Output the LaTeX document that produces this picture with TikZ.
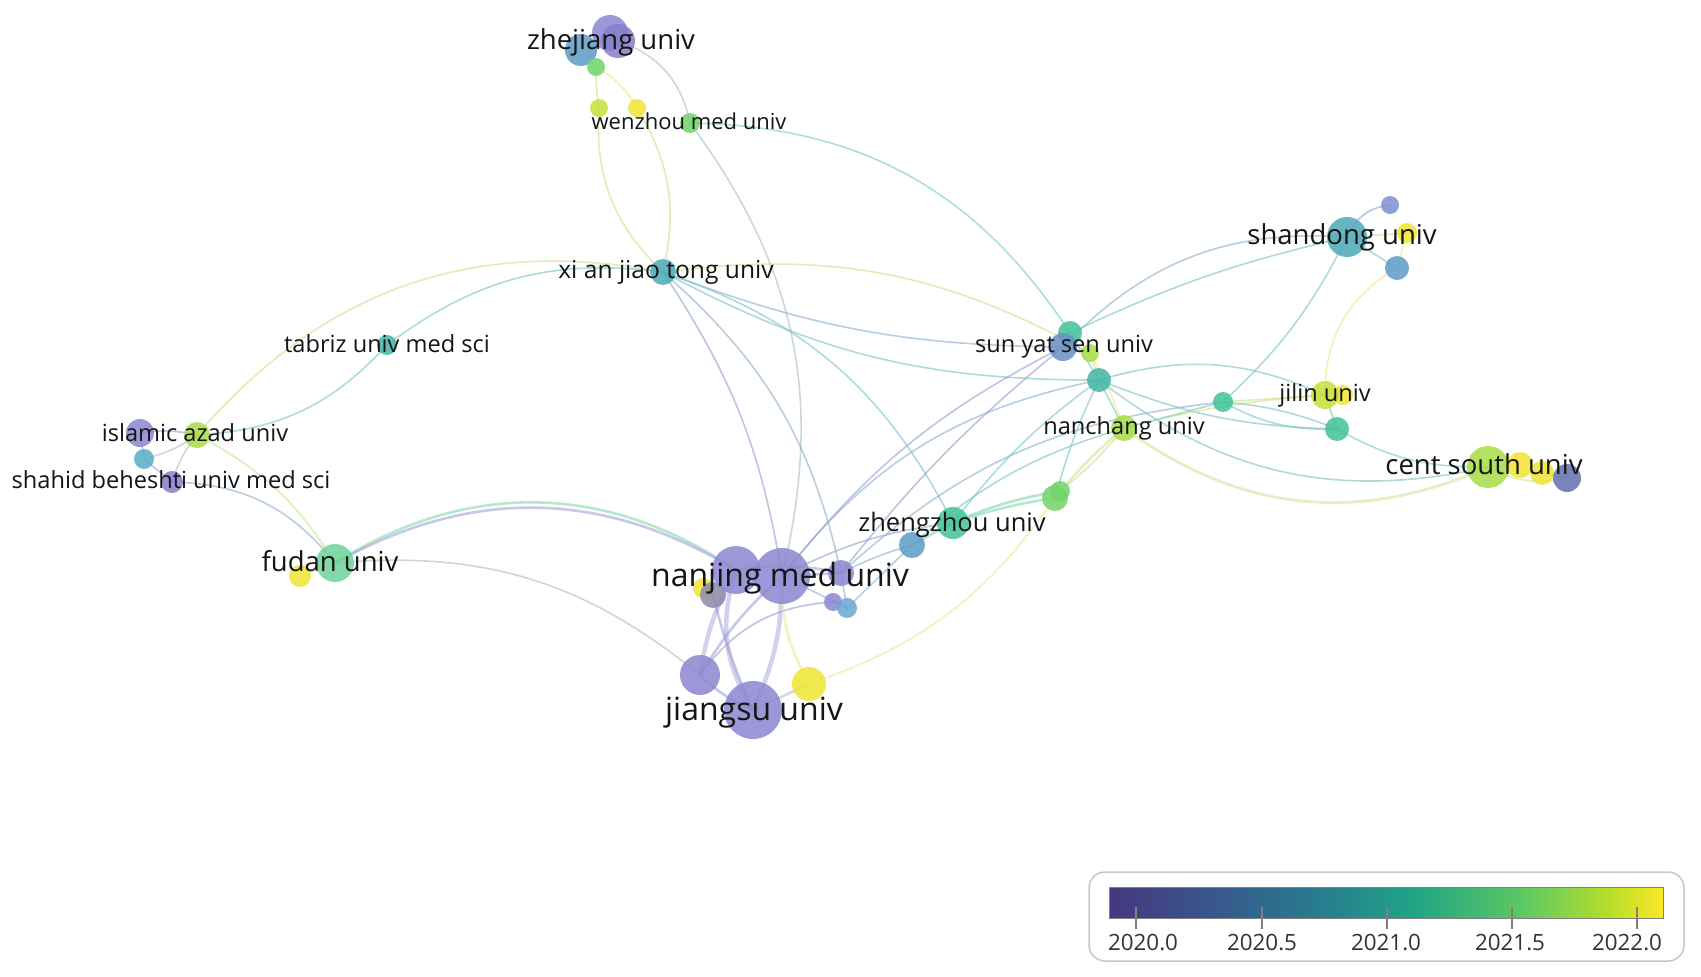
\documentclass[tikz,border=0pt]{standalone}
\usepackage{fontspec}
\setmainfont{Open Sans}
\pgfdeclarelayer{back}
\pgfdeclarelayer{edges}
\pgfsetlayers{back,edges,main}
% node colours
\definecolor{cPurple}{HTML}{8C88D2}
\definecolor{cPurpleD}{HTML}{8780CC}
\definecolor{cBlue}{HTML}{5E9DC6}
\definecolor{cTeal}{HTML}{4EAAB8}
\definecolor{cTeal2}{HTML}{45B5A8}
\definecolor{cTG}{HTML}{43C29A}
\definecolor{cGreen}{HTML}{6FD49A}
\definecolor{cGreen2}{HTML}{72D56B}
\definecolor{cLime}{HTML}{A8DD48}
\definecolor{cYLime}{HTML}{C8E03A}
\definecolor{cYellow}{HTML}{F0E535}
\definecolor{cBlue2}{HTML}{6A8FC8}
\definecolor{cGray}{HTML}{8E8BA6}
\definecolor{cSBlue}{HTML}{7E90CF}
\definecolor{cDBlue}{HTML}{6172AE}
\definecolor{cLBlue}{HTML}{6AA8D2}
\definecolor{cIBlue}{HTML}{5AAEC8}
% edge colours
\definecolor{ePurple}{HTML}{9C9AD8}
\definecolor{eBluePur}{HTML}{94A4D0}
\definecolor{eBlue}{HTML}{8DB0CF}
\definecolor{eTeal}{HTML}{7CC6C4}
\definecolor{eTG}{HTML}{78D0B0}
\definecolor{eGreen}{HTML}{7CD6A0}
\definecolor{eLime}{HTML}{C9E48A}
\definecolor{eYellow}{HTML}{E4EC8C}
\definecolor{eGrayT}{HTML}{A8C4BC}
\definecolor{eGray}{HTML}{B8B8C8}
\definecolor{labc}{HTML}{151515}
\definecolor{tickc}{HTML}{333333}
% viridis
\definecolor{v0}{HTML}{453781}
\definecolor{v2}{HTML}{37598C}
\definecolor{v4}{HTML}{26818E}
\definecolor{v55}{HTML}{20A486}
\definecolor{v75}{HTML}{5EC962}
\definecolor{v9}{HTML}{B5DE2B}
\definecolor{v10}{HTML}{FDE725}
\pgfdeclarehorizontalshading{viridis}{100bp}{color(0bp)=(v0); color(25bp)=(v0); color(35bp)=(v2); color(45bp)=(v4); color(52.5bp)=(v55); color(62.5bp)=(v75); color(70bp)=(v9); color(75bp)=(v10); color(100bp)=(v10)}
\tikzset{
  dot/.style={circle, inner sep=0pt, draw=none, fill opacity=0.86},
  lab/.style={anchor=base, inner sep=0pt, text=labc},
  edge/.style={line width=1.6pt, draw opacity=0.62},
  thick edge/.style={line width=4.5pt, draw opacity=0.45},
  mid edge/.style={line width=2.6pt, draw opacity=0.55},
  ticklab/.style={anchor=base, inner sep=0pt, text=tickc, font=\fontsize{22.4}{22.4}\selectfont}
}
\newcommand\nd[5]{\node[dot, fill=#5, minimum size={2*#4}] (#1) at (#2,#3) {};}
\newcommand\lbl[5]{\node[lab, font=\fontsize{#4}{#4}\selectfont, yshift={-0.3*#4pt}] (#1) at (#2,#3) {#5};}
\begin{document}
\begin{tikzpicture}[x=1pt,y=-1pt]
\begin{pgfonlayer}{back}
\fill[white] (0,0) rectangle (1701,977);
\end{pgfonlayer}
\useasboundingbox (0,0) rectangle (1701,977);

% ---------- nodes ----------
\nd{zj1}{610}{33}{18}{cPurple}
\nd{zj2}{618}{41}{17}{cPurpleD}
\nd{zj3}{581}{50}{16}{cBlue}
\nd{zj4}{596}{67}{9}{cGreen2}
\nd{wz1}{599}{108}{9}{cYLime}
\nd{wz2}{637}{108}{9}{cYellow}
\nd{wz3}{690}{123}{10}{cGreen2}
\nd{xa}{663}{272}{13}{cTeal}
\nd{tb}{387}{345}{10}{cTeal2}
\nd{ia1}{140}{433}{14}{cPurple}
\nd{ia2}{197}{435}{13}{cLime}
\nd{ia3}{144}{459}{10}{cIBlue}
\nd{sb}{172}{482}{11}{cPurpleD}
\nd{fd2}{300}{576}{11}{cYellow}
\nd{fd1}{335}{563}{19}{cGreen}
\nd{nj5}{703}{588}{10}{cYellow}
\nd{nj4}{713}{595}{13}{cGray}
\nd{nj2}{736}{570}{24}{cPurple}
\nd{nj1}{782}{576}{28}{cPurple}
\nd{nj3}{841}{573}{13}{cPurple}
\nd{nj6}{833}{602}{9}{cPurple}
\nd{nj7}{847}{608}{10}{cLBlue}
\nd{js1}{700}{675}{20}{cPurple}
\nd{js2}{753}{710}{29}{cPurple}
\nd{js3}{809}{684}{17}{cYellow}
\nd{zz1}{912}{545}{13}{cBlue}
\nd{zz2}{953}{523}{16}{cTG}
\nd{gp1}{1055}{498}{13}{cGreen2}
\nd{gp2}{1060}{491}{10}{cGreen2}
\nd{nc}{1124}{428}{13}{cLime}
\nd{t2}{1099}{380}{12}{cTeal2}
\nd{sy2}{1070}{333}{12}{cTG}
\nd{sy1}{1063}{347}{14}{cBlue2}
\nd{sy3}{1090}{353}{9}{cLime}
\nd{g1}{1223}{402}{10}{cTG}
\nd{jl2}{1343}{395}{10}{cYellow}
\nd{jl1}{1325}{395}{14}{cYLime}
\nd{jt}{1337}{429}{12}{cTG}
\nd{cs1}{1488}{467}{21}{cLime}
\nd{cs2}{1520}{465}{13}{cYellow}
\nd{cs3}{1542}{473}{12}{cYellow}
\nd{cs4}{1567}{478}{14}{cDBlue}
\nd{sd1}{1347}{237}{20}{cTeal}
\nd{sd2}{1390}{205}{9}{cSBlue}
\nd{sd3}{1407}{233}{10}{cYellow}
\nd{sd4}{1397}{268}{12}{cBlue}

% ---------- edges ----------
\begin{pgfonlayer}{edges}
% zhejiang / wenzhou
\draw[edge, eLime] (zj4.center) to[bend right=5] (wz1.center);
\draw[edge, eYellow] (zj4.center) to[bend left=15] (wz2.center);
\draw[edge, eGrayT] (zj2.center) to[bend left=30] (wz3.center);
\draw[edge, eLime] (wz1.center) to[bend right=25] (xa.center);
\draw[edge, eLime] (wz2.center) to[bend left=22] (xa.center);
\draw[edge, eGrayT] (wz3.center) to[bend left=25] (nj1.center);
\draw[edge, eTG] (wz3.center) to[bend left=28] (sy2.center);
% xi an jiao tong
\draw[edge, eLime] (ia2.center) to[bend left=30] (xa.center);
\draw[edge, eTeal] (tb.center) to[bend left=22] (xa.center);
\draw[edge, eTeal] (tb.center) to[bend left=22] (ia2.center);
\draw[edge, eLime] (xa.center) to[bend left=18] (sy3.center);
\draw[edge, eBlue] (xa.center) to[bend right=10] (sy1.center);
\draw[edge, eTeal] (xa.center) to[bend right=14] (t2.center);
\draw[edge, eTeal] (xa.center) to[bend left=22] (zz2.center);
\draw[edge, eBluePur] (xa.center) to[bend left=12] (nj1.center);
\draw[edge, eBlue] (xa.center) to[bend left=18] (nj3.center);
% fudan / iran
\draw[mid edge, eGreen] (fd1.center) to[bend left=33] (nj2.center);
\draw[mid edge, ePurple] (fd1.center) to[bend left=30] (nj2.center);
\draw[edge, eGray] (fd1.center) to[bend left=22] (js1.center);
\draw[edge, eLime] (ia2.center) to[bend left=15] (fd1.center);
\draw[edge, eBlue] (sb.center) to[bend left=25] (fd1.center);
\draw[edge, ePurple] (ia1.center) to[bend left=10] (ia2.center);
\draw[edge, eGrayT] (ia3.center) to[bend right=10] (ia2.center);
\draw[edge, eBlue] (ia1.center) to (ia3.center);
\draw[edge, eGray] (sb.center) to[bend left=10] (ia2.center);
\draw[edge, eBluePur] (ia3.center) to (sb.center);
\draw[edge, eYellow] (fd2.center) to (fd1.center);
% nanjing / jiangsu
\draw[thick edge, ePurple] (nj1.center) to[bend left=12] (js2.center);
\draw[thick edge, ePurple] (nj2.center) to[bend right=25] (js2.center);
\draw[thick edge, ePurple] (nj2.center) to[bend right=10] (js1.center);
\draw[mid edge, ePurple] (nj1.center) to[bend right=8] (js1.center);
\draw[mid edge, ePurple] (js1.center) to[bend right=10] (js2.center);
\draw[edge, ePurple] (js1.center) to[bend left=25] (nj6.center);
\draw[mid edge, ePurple] (nj4.center) to[bend right=5] (js2.center);
\draw[mid edge, eGray] (js2.center) to (js3.center);
\draw[mid edge, eYellow] (js3.center) to[bend left=15] (nj1.center);
\draw[mid edge, ePurple] (nj1.center) to (nj3.center);
\draw[mid edge, ePurple] (nj2.center) to[bend left=10] (nj3.center);
\draw[edge, eBlue] (nj3.center) to (nj7.center);
\draw[edge, eBlue] (nj1.center) to (nj7.center);
\draw[edge, ePurple] (nj6.center) to (nj7.center);
\draw[edge, eYellow] (js3.center) to[bend right=18] (gp1.center);
% zhengzhou / nanchang
\draw[mid edge, eGreen] (zz2.center) to[bend left=5] (gp1.center);
\draw[mid edge, eTG] (zz1.center) to[bend left=10] (gp2.center);
\draw[edge, eBlue] (zz1.center) to[bend right=5] (nj3.center);
\draw[edge, eBluePur] (zz2.center) to[bend right=10] (nj1.center);
\draw[edge, eBlue] (zz1.center) to (nj7.center);
\draw[mid edge, eLime] (nc.center) to[bend right=5] (gp1.center);
\draw[edge, eLime] (nc.center) to[bend left=6] (gp2.center);
\draw[edge, eTeal] (nc.center) to[bend right=12] (zz1.center);
\draw[edge, eBlue] (g1.center) to[bend right=18] (nj3.center);
\draw[edge, eTeal] (t2.center) to[bend right=5] (gp1.center);
\draw[edge, eTeal] (t2.center) to[bend right=8] (zz2.center);
\draw[edge, eBlue] (t2.center) to[bend right=20] (nj1.center);
\draw[edge, eBluePur] (sy1.center) to[bend right=12] (nj1.center);
\draw[edge, eBluePur] (sy1.center) to[bend right=6] (nj3.center);
% sun yat sen / shandong
\draw[edge, eBlue] (sd1.center) to[bend right=25] (sy1.center);
\draw[edge, eTeal] (sd1.center) to[bend right=6] (sy2.center);
\draw[edge, eTeal] (sd1.center) to[bend left=10] (g1.center);
\draw[edge, eBluePur] (sd1.center) to[bend left=30] (sd2.center);
\draw[edge, eTeal] (sd1.center) to (sd4.center);
\draw[edge, eYellow] (sd3.center) to (sd4.center);
\draw[edge, eLime] (sd1.center) to (sd3.center);
\draw[edge, eYellow] (sd4.center) to[bend right=30] (jl1.center);
\draw[edge, eBlue] (sy1.center) to (sy3.center);
\draw[edge, eTeal] (sy2.center) to (t2.center);
\draw[edge, eLime] (sy3.center) to (t2.center);
\draw[edge, eYellow] (sy3.center) to[bend left=5] (nc.center);
\draw[edge, eTG] (t2.center) to (nc.center);
\draw[edge, eTeal] (t2.center) to[bend left=20] (jl1.center);
\draw[edge, eTeal] (t2.center) to[bend right=10] (jt.center);
\draw[edge, eTeal] (t2.center) to[bend right=25] (cs1.center);
\draw[mid edge, eLime] (nc.center) to[bend right=30] (cs1.center);
\draw[edge, eLime] (nc.center) to[bend left=5] (jl1.center);
\draw[edge, eTG] (nc.center) to (g1.center);
\draw[edge, eTeal] (g1.center) to[bend right=15] (jt.center);
\draw[edge, eTeal] (g1.center) to[bend left=8] (jt.center);
\draw[edge, eLime] (g1.center) to (jl1.center);
\draw[edge, eTG] (jl1.center) to (jt.center);
\draw[edge, eTG] (jt.center) to[bend right=15] (cs1.center);
\draw[mid edge, eYellow] (cs1.center) to (cs2.center);
\draw[mid edge, eYellow] (cs2.center) to (cs3.center);
\draw[edge, eGray] (cs3.center) to (cs4.center);
\draw[edge, eLime] (cs1.center) to[bend right=20] (cs4.center);
\end{pgfonlayer}

% ---------- labels ----------
\lbl{Lzj}{611}{41}{27.5}{zhejiang univ}
\lbl{Lwz}{689}{123}{22}{wenzhou med univ}
\lbl{Lxa}{666}{271}{24.6}{xi an jiao tong univ}
\lbl{Ltb}{387}{345}{23.6}{tabriz univ med sci}
\lbl{Lia}{195}{434}{23.6}{islamic azad univ}
\lbl{Lsb}{171}{481}{23.6}{shahid beheshti univ med sci}
\lbl{Lfd}{330}{563}{27.5}{fudan univ}
\lbl{Lnj}{780}{577}{32}{nanjing med univ}
\lbl{Ljs}{754}{711}{32}{jiangsu univ}
\lbl{Lzz}{952}{524}{25.5}{zhengzhou univ}
\lbl{Lsy}{1064}{345}{23.6}{sun yat sen univ}
\lbl{Lnc}{1124}{427}{23.6}{nanchang univ}
\lbl{Ljl}{1325}{394}{23.6}{jilin univ}
\lbl{Lcs}{1484}{466}{27.5}{cent south univ}
\lbl{Lsd}{1342}{236}{27.5}{shandong univ}

% ---------- colour bar ----------
\draw[draw=black!22, line width=1.5pt, rounded corners=16pt] (1089,872) rectangle (1684,961);
\shade[shading=viridis] (1109,887) rectangle (1663,918);
\draw[draw=black!50, line width=1pt] (1109,887) rectangle (1663,918);
\foreach \xx/\lx/\tt in {1136/1143/2020.0,1262/1262/2020.5,1387/1386/2021.0,1512/1510/2021.5,1637/1627/2022.0}{
  \draw[draw=black!50, line width=1.6pt] (\xx,907) -- (\xx,929);
  \node[ticklab] (tick\xx) at (\lx,950) {\tt};
}
\end{tikzpicture}
\end{document}
